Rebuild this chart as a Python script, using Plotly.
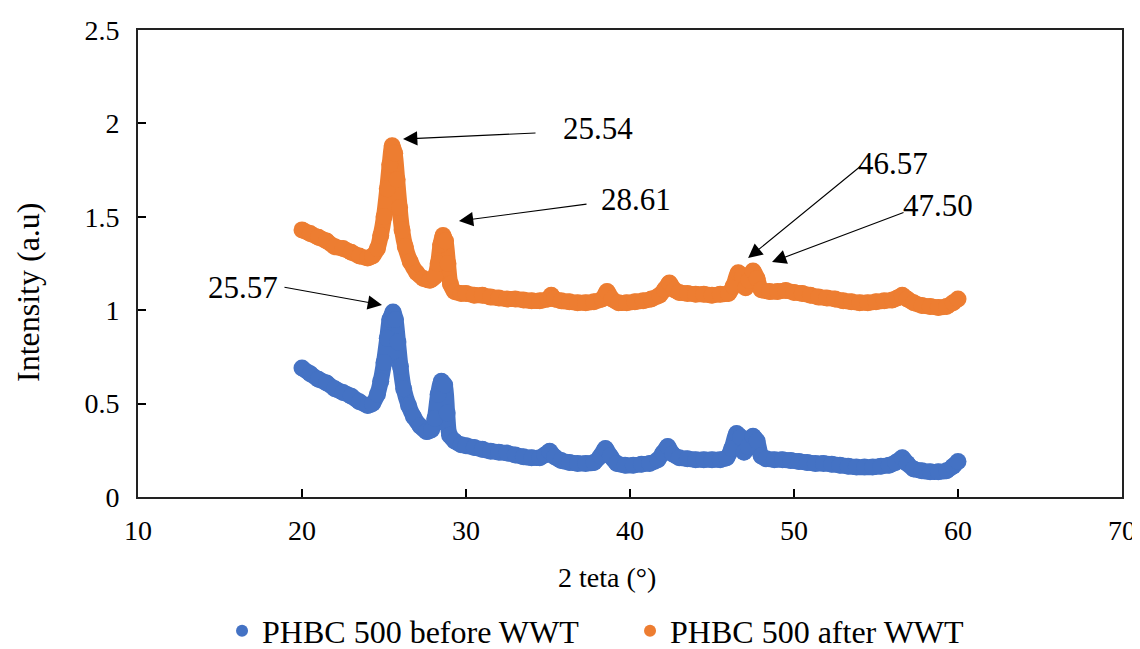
import plotly.graph_objects as go

# ---- data ----
x_after = [20.0, 20.5, 21.0, 21.5, 22.0, 22.5, 23.0, 23.5, 24.0, 24.3, 24.6, 24.8, 25.0, 25.2, 25.35, 25.5,
           25.65, 25.8, 25.95, 26.1, 26.3, 26.6, 27.0, 27.4, 27.8, 28.1, 28.3, 28.45, 28.6, 28.75, 28.9,
           29.05, 29.3, 29.7, 30.0, 30.5, 31.0, 31.5, 32.0, 32.5, 33.0, 33.5, 34.0, 34.5, 35.0, 35.2, 35.4,
           35.8, 36.3, 36.8, 37.3, 37.8, 38.3, 38.6, 38.9, 39.3, 39.8, 40.3, 40.8, 41.3, 41.8, 42.1, 42.4,
           42.7, 43.0, 43.5, 44.0, 44.5, 45.0, 45.5, 46.0, 46.3, 46.6, 46.85, 47.05, 47.25, 47.5, 47.75,
           48.0, 48.5, 49.0, 49.5, 50.0, 50.5, 51.0, 51.5, 52.0, 52.5, 53.0, 53.5, 54.0, 54.5, 55.0, 55.5,
           56.0, 56.3, 56.6, 56.9, 57.3, 57.8, 58.3, 58.8, 59.3, 59.7, 60.0]
y_after = [1.43, 1.41, 1.39, 1.37, 1.34, 1.33, 1.31, 1.29, 1.28, 1.29, 1.33, 1.40, 1.50, 1.65, 1.78, 1.88,
           1.84, 1.70, 1.55, 1.43, 1.34, 1.26, 1.20, 1.17, 1.16, 1.18, 1.25, 1.35, 1.40, 1.37, 1.25,
           1.14, 1.10, 1.09, 1.09, 1.08, 1.08, 1.07, 1.065, 1.06, 1.06, 1.055, 1.05, 1.05, 1.06, 1.08, 1.06,
           1.05, 1.045, 1.04, 1.04, 1.045, 1.06, 1.10, 1.06, 1.04, 1.04, 1.045, 1.05, 1.06, 1.08, 1.11, 1.145,
           1.11, 1.095, 1.09, 1.085, 1.085, 1.08, 1.085, 1.09, 1.13, 1.20, 1.18, 1.12, 1.16, 1.21, 1.17,
           1.11, 1.10, 1.10, 1.105, 1.095, 1.09, 1.08, 1.07, 1.065, 1.06, 1.05, 1.045, 1.04, 1.04, 1.045, 1.05,
           1.055, 1.065, 1.08, 1.06, 1.04, 1.025, 1.02, 1.015, 1.02, 1.04, 1.06]

x_before = [20.0, 20.5, 21.0, 21.5, 22.0, 22.5, 23.0, 23.5, 24.0, 24.3, 24.6, 24.8, 25.0, 25.2, 25.35, 25.55,
            25.7, 25.85, 26.0, 26.2, 26.5, 26.8, 27.2, 27.6, 27.9, 28.1, 28.3, 28.5, 28.7, 28.85, 29.0,
            29.3, 29.7, 30.0, 30.5, 31.0, 31.5, 32.0, 32.5, 33.0, 33.5, 34.0, 34.5, 34.8, 35.1, 35.4, 35.8,
            36.3, 36.8, 37.3, 37.8, 38.2, 38.5, 38.8, 39.2, 39.7, 40.2, 40.7, 41.2, 41.7, 42.0, 42.3, 42.6,
            43.0, 43.5, 44.0, 44.5, 45.0, 45.5, 45.9, 46.2, 46.5, 46.75, 46.95, 47.2, 47.5, 47.75, 48.0,
            48.3, 48.8, 49.3, 49.8, 50.3, 50.8, 51.3, 51.8, 52.3, 52.8, 53.3, 53.8, 54.3, 54.8, 55.3, 55.8,
            56.2, 56.6, 56.9, 57.3, 57.8, 58.3, 58.8, 59.3, 59.7, 60.0]
y_before = [0.69, 0.66, 0.63, 0.61, 0.58, 0.56, 0.54, 0.51, 0.49, 0.50, 0.55, 0.62, 0.72, 0.85, 0.95, 0.99,
            0.95, 0.83, 0.70, 0.58, 0.49, 0.43, 0.38, 0.35, 0.36, 0.42, 0.55, 0.62, 0.60, 0.45, 0.33,
            0.30, 0.28, 0.275, 0.265, 0.255, 0.245, 0.24, 0.235, 0.225, 0.215, 0.21, 0.21, 0.225, 0.245, 0.215, 0.195,
            0.185, 0.18, 0.18, 0.185, 0.22, 0.26, 0.22, 0.18, 0.17, 0.17, 0.175, 0.18, 0.20, 0.235, 0.27, 0.23,
            0.21, 0.205, 0.20, 0.20, 0.20, 0.20, 0.21, 0.26, 0.34, 0.32, 0.24, 0.27, 0.325, 0.30, 0.22,
            0.205, 0.20, 0.20, 0.195, 0.19, 0.185, 0.18, 0.18, 0.175, 0.17, 0.165, 0.16, 0.16, 0.16, 0.165, 0.17,
            0.185, 0.21, 0.18, 0.15, 0.14, 0.135, 0.135, 0.14, 0.165, 0.19]

series_names = ["PHBC 500 before WWT", "PHBC 500 after WWT"]
series_colors = ["#4472C4", "#ED7D31"]

x_ticks = [10, 20, 30, 40, 50, 60, 70]
y_ticks = [0, 0.5, 1, 1.5, 2, 2.5]
y_tick_labels = ["0", "0.5", "1", "1.5", "2", "2.5"]
x_title = "2 teta (°)"
y_title = "Intensity (a.u)"

# peak labels: text, arrow tip (x, y), arrow tail (x, y), text centre (x, y)
peak_labels = ["25.54", "28.61", "25.57", "46.57", "47.50"]
tip_x = [26.16, 29.57, 24.88, 47.20, 48.66]
tip_y = [1.916, 1.478, 1.028, 1.279, 1.258]
tail_x = [34.33, 37.44, 18.84, 54.15, 56.77]
tail_y = [1.949, 1.569, 1.124, 1.777, 1.526]
text_x = [38.05, 40.37, 16.40, 56.04, 58.78]
text_y = [1.975, 1.590, 1.124, 1.788, 1.563]

FONT = "Liberation Serif"
fig = go.Figure()

for xs, ys, name, col in [(x_before, y_before, series_names[0], series_colors[0]),
                          (x_after, y_after, series_names[1], series_colors[1])]:
    fig.add_trace(go.Scatter(x=xs, y=ys, mode="lines+markers", name=name, showlegend=False,
                             line=dict(color=col, width=16, shape="spline", smoothing=0.8),
                             marker=dict(color=col, size=17, line=dict(width=0))))
for name, col in zip(series_names, series_colors):
    fig.add_trace(go.Scatter(x=[None], y=[None], mode="markers", name=name,
                             marker=dict(color=col, size=12)))

for i, lab in enumerate(peak_labels):
    fig.add_annotation(x=tip_x[i], y=tip_y[i], ax=tail_x[i], ay=tail_y[i], axref="x", ayref="y",
                       xref="x", yref="y", text="", showarrow=True, arrowhead=2, arrowsize=2.6,
                       arrowwidth=1.1, arrowcolor="black")
    fig.add_annotation(x=text_x[i], y=text_y[i], xref="x", yref="y", text=lab, showarrow=False,
                       font=dict(family=FONT, size=31, color="black"))

# axis titles (placed where the reference shows them)
fig.add_annotation(x=0.4766, y=-0.1734, xref="paper", yref="paper", text=x_title, showarrow=False,
                   xanchor="center", yanchor="middle", font=dict(family=FONT, size=28, color="black"))
fig.add_annotation(x=-0.1118, y=0.439, xref="paper", yref="paper", text=y_title, showarrow=False,
                   textangle=-90, xanchor="center", yanchor="middle",
                   font=dict(family=FONT, size=32, color="black"))

# the page body has an 8px margin; margins are shifted to compensate
fig.update_layout(
    width=1140, height=649,
    margin=dict(l=130, r=26, t=22, b=160, autoexpand=False),
    plot_bgcolor="white", paper_bgcolor="white",
    font=dict(family=FONT, color="black"),
    legend=dict(orientation="h", x=0.0854, xanchor="left", y=-0.287, yanchor="middle",
                font=dict(family=FONT, size=32), itemwidth=30, tracegroupgap=0,
                entrywidth=363),
    xaxis=dict(range=[10, 70], tickvals=x_ticks, ticks="inside", ticklen=8, tickwidth=1.5,
               tickcolor="black", showline=True, linecolor="#222", linewidth=2, mirror=True,
               showgrid=False, zeroline=False, tickfont=dict(family=FONT, size=28),
               ticklabelstandoff=7, automargin=False),
    yaxis=dict(range=[0, 2.5], tickvals=y_ticks, ticktext=y_tick_labels, ticks="inside", ticklen=8,
               tickwidth=1.5, tickcolor="black", showline=True, linecolor="#222", linewidth=2,
               mirror=True, showgrid=False, zeroline=False, tickfont=dict(family=FONT, size=28),
               ticklabelstandoff=11, automargin=False),
)

fig.write_html("out.html")
